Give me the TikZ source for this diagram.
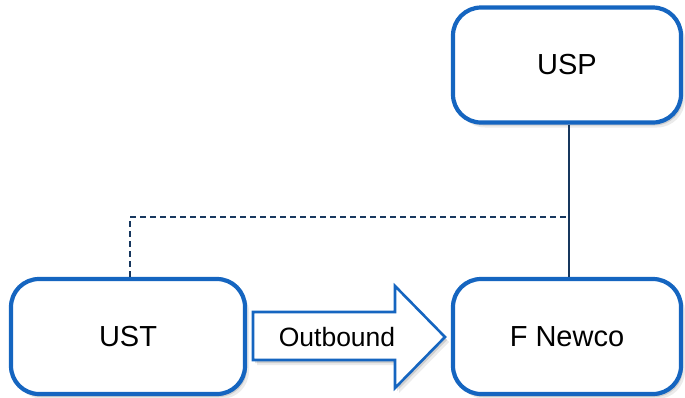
\documentclass[tikz,border=0pt]{standalone}
\usepackage{fontspec}
\setmainfont{Liberation Sans}
\usetikzlibrary{shadows}
\definecolor{boxblue}{RGB}{21,101,192}
\definecolor{navy}{RGB}{23,55,94}
\begin{document}
\begin{tikzpicture}[x=1pt,y=-1pt,
  softshadow/.style={
    drop shadow={shadow xshift=2pt, shadow yshift=-3pt, opacity=0.12, fill=black},
    drop shadow={shadow xshift=4pt, shadow yshift=-5pt, opacity=0.08, fill=black}},
  entity/.style={draw=boxblue, line width=4.2pt, fill=white, rounded corners=28pt,
    minimum width=228pt, minimum height=115pt, inner sep=0pt,
    font=\fontsize{29}{33}\selectfont, softshadow},
  blockarrow/.style={draw=boxblue, line width=2.6pt, fill=white, line join=miter, softshadow},
  link/.style={draw=navy, line width=1.4pt},
  dashlink/.style={draw=navy, line width=1.4pt, dash pattern=on 6pt off 4pt}]
\useasboundingbox (0,0) rectangle (685,397);
\node[entity] (USP) at (567,65) {USP};
\node[entity, minimum width=234pt] (UST) at (128,336.5) {UST};
\node[entity] (FN) at (567,336.5) {F Newco};
\coordinate (j) at (569,217);
\draw[link] ([xshift=2pt]USP.south) -- ([xshift=2pt]FN.north);
\draw[dashlink] ([xshift=2pt]UST.north) |- (j);
\path[blockarrow] (253,312) -- (395,312) -- (395,286) -- (445,337) -- (395,388) -- (395,360) -- (253,360) -- cycle;
\node[font=\fontsize{26.5}{30}\selectfont, inner sep=0pt] (OB) at (337,337) {Outbound};
\end{tikzpicture}
\end{document}
